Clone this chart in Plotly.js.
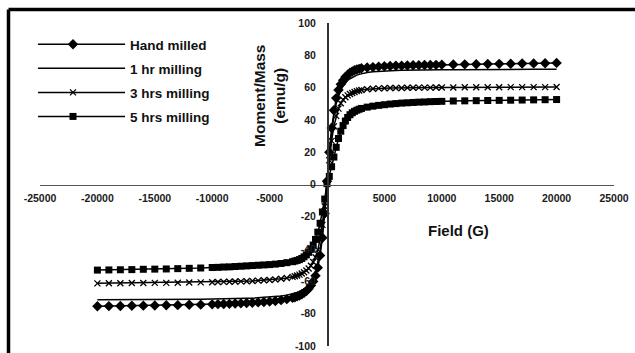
<!DOCTYPE html>
<html><head><meta charset="utf-8">
<script src="https://cdn.plot.ly/plotly-3.0.1.min.js"></script>
<style>html,body{margin:0;padding:0;background:#fff}#chart{width:635px;height:353px}</style>
</head><body><div id="chart"></div>
<script>
const field = [-20000,-19000,-18000,-17000,-16000,-15000,-14000,-13000,-12000,-11000,-10000,
-9500,-9000,-8500,-8000,-7500,-7000,-6500,-6000,-5500,-5000,-4500,-4000,-3500,-3000,
-2800,-2600,-2400,-2200,-2000,-1800,-1600,-1400,-1200,-1000,-800,-600,-400,-200,
0,
200,400,600,800,1000,1200,1400,1600,1800,2000,2200,2400,2600,2800,
3000,3500,4000,4500,5000,5500,6000,6500,7000,7500,8000,8500,9000,9500,
10000,11000,12000,13000,14000,15000,16000,17000,18000,19000,20000];

const handMilled = [-75.4,-75.3,-75.2,-75.1,-75.0,-74.9,-74.8,-74.7,-74.5,-74.4,-74.2,
-74.1,-74.0,-73.9,-73.7,-73.6,-73.4,-73.2,-73.0,-72.8,-72.5,-72.1,-71.6,-71.0,-70.2,
-69.8,-69.3,-68.7,-68.0,-67.1,-66.0,-64.5,-62.6,-60.0,-56.5,-51.5,-44.0,-33.0,-18.0,
2.0,
20.0,35.0,46.0,53.5,58.5,62.0,64.5,66.5,68.0,69.2,70.0,70.7,71.2,71.6,
72.0,72.4,72.7,73.0,73.2,73.4,73.5,73.6,73.7,73.8,73.9,74.0,74.0,74.1,
74.2,74.3,74.4,74.5,74.6,74.7,74.8,74.9,75.0,75.1,75.3];

const milling1hr = [-71.4,-71.4,-71.3,-71.3,-71.2,-71.2,-71.1,-71.1,-71.0,-71.0,-70.9,
-70.9,-70.8,-70.8,-70.7,-70.6,-70.5,-70.4,-70.2,-70.0,-69.7,-69.4,-69.0,-68.5,-67.8,
-67.4,-66.9,-66.3,-65.6,-64.7,-63.5,-62.0,-60.0,-57.3,-53.5,-48.0,-40.5,-30.0,-16.5,
1.5,
18.5,32.0,42.5,50.0,55.0,58.5,61.0,62.9,64.4,65.5,66.4,67.1,67.7,68.2,
68.6,69.3,69.8,70.1,70.3,70.5,70.6,70.7,70.8,70.8,70.9,70.9,71.0,71.0,
71.0,71.0,71.1,71.1,71.1,71.2,71.2,71.2,71.3,71.3,71.3];

const milling3hrs = [-61.2,-61.1,-61.1,-61.0,-61.0,-60.9,-60.9,-60.8,-60.7,-60.6,-60.5,
-60.4,-60.3,-60.2,-60.1,-60.0,-59.9,-59.7,-59.5,-59.3,-59.1,-58.8,-58.4,-57.9,-57.2,
-56.8,-56.3,-55.8,-55.1,-54.3,-53.3,-52.0,-50.3,-48.0,-45.0,-40.5,-34.0,-25.0,-13.5,
1.0,
15.0,27.0,36.0,42.5,47.0,50.3,52.5,54.0,55.2,56.0,56.7,57.3,57.8,58.2,
58.5,59.0,59.3,59.5,59.6,59.7,59.8,59.8,59.9,59.9,60.0,60.0,60.0,60.1,
60.1,60.1,60.2,60.2,60.2,60.2,60.3,60.3,60.3,60.3,60.4];

const milling5hrs = [-53.0,-52.9,-52.8,-52.7,-52.5,-52.4,-52.3,-52.1,-51.9,-51.7,-51.4,
-51.3,-51.1,-51.0,-50.8,-50.6,-50.4,-50.2,-50.0,-49.8,-49.6,-49.3,-48.9,-48.4,-47.8,
-47.4,-47.0,-46.5,-45.8,-44.8,-43.6,-42.0,-40.0,-37.5,-34.0,-29.5,-24.0,-17.0,-9.0,
0.5,
5.0,11.0,17.0,23.0,28.5,33.0,36.5,39.3,41.5,43.2,44.4,45.3,46.0,46.6,
47.1,47.9,48.5,49.0,49.4,49.8,50.1,50.4,50.6,50.8,51.0,51.1,51.3,51.4,
51.5,51.7,51.8,51.9,52.0,52.1,52.2,52.3,52.4,52.5,52.6];

const seriesNames = ['Hand milled', '1 hr milling', '3 hrs milling', '5 hrs milling'];
const xTickVals = [-25000,-20000,-15000,-10000,-5000,5000,10000,15000,20000,25000];
const yTickVals = [-100,-80,-60,-40,-20,0,20,40,60,80,100];
const xTitle = 'Field (G)';
const yTitle = 'Moment/Mass<br>(emu/g)';

const FONT = 'Arial, "Liberation Sans", sans-serif';
const lineStyle = {color: '#000', width: 1.5};

const traces = [
  {x: field, y: handMilled, name: seriesNames[0], mode: 'lines+markers', legendgroup: 'a',
   line: lineStyle, marker: {symbol: 'diamond', size: 8, color: '#000'}},
  {x: field, y: milling1hr, name: seriesNames[1], mode: 'lines', legendgroup: 'b',
   line: lineStyle},
  {x: field, y: milling3hrs, name: seriesNames[2], mode: 'lines+markers', legendgroup: 'c',
   line: lineStyle, marker: {symbol: 'x-thin-open', size: 6, color: '#000', line: {color: '#000', width: 1.3}}},
  {x: field, y: milling5hrs, name: seriesNames[3], mode: 'lines+markers', legendgroup: 'd',
   line: lineStyle, marker: {symbol: 'square', size: 7, color: '#000'}}
];

const tickFont = {family: FONT, size: 10.5, color: '#1a1a1a', weight: 'bold'};

const layout = {
  width: 635, height: 353,
  margin: {l: 40, r: 21, t: 23, b: 7},
  paper_bgcolor: '#fff', plot_bgcolor: 'rgba(0,0,0,0)',
  showlegend: true,
  legend: {x: (33 - 40) / 574, y: 1 - (29 - 23) / 323, xanchor: 'left', yanchor: 'top',
           bgcolor: 'rgba(0,0,0,0)', borderwidth: 0, itemwidth: 87, tracegroupgap: 3.5,
           font: {family: FONT, size: 13.5, color: '#111', weight: 'bold'}},
  xaxis: {range: [-25000, 25000], tickvals: xTickVals, ticktext: xTickVals.map(String),
          showgrid: false, zeroline: false, showline: true, linecolor: '#555', linewidth: 1.5,
          anchor: 'free', position: 0.5, ticks: '', tickfont: tickFont, ticklabelstandoff: 3,
          ticklabeloverflow: 'allow'},
  yaxis: {range: [-100, 100], tickvals: yTickVals, ticktext: yTickVals.map(String),
          showgrid: false, zeroline: false, showline: true, linecolor: '#333', linewidth: 1.5,
          anchor: 'free', position: 0.5, ticks: '', tickfont: tickFont, ticklabelstandoff: 9,
          ticklabeloverflow: 'allow'},
  annotations: [
    {text: xTitle, xref: 'paper', yref: 'paper', x: (458 - 40) / 574, y: 1 - (230 - 23) / 323,
     xanchor: 'center', yanchor: 'middle',
     showarrow: false, font: {family: FONT, size: 15, color: '#111', weight: 'bold'}},
    {text: yTitle, xref: 'paper', yref: 'paper', x: (270 - 40) / 574, y: 1 - (96 - 23) / 323,
     xanchor: 'center', yanchor: 'middle',
     showarrow: false, textangle: -90, font: {family: FONT, size: 15.5, color: '#111', weight: 'bold'}}
  ],
  shapes: [
    {type: 'line', xref: 'paper', yref: 'paper', x0: (8.5 - 40) / 574, x1: 1.1,
     y0: 1 + (23 - 9.5) / 323, y1: 1 + (23 - 9.5) / 323, line: {color: '#000', width: 3.5}, layer: 'above'},
    {type: 'line', xref: 'paper', yref: 'paper', x0: (8.5 - 40) / 574, x1: (8.5 - 40) / 574,
     y0: -0.1, y1: 1 + (23 - 9.5) / 323, line: {color: '#000', width: 3.5}, layer: 'above'}
  ]
};

Plotly.newPlot('chart', traces, layout, {displayModeBar: false, staticPlot: true}).then(gd => {
  gd.querySelectorAll('.legend .legendlines').forEach(p => p.setAttribute('d', 'M5,0h70'));
  gd.querySelectorAll('.legend .legendpoints path.scatterpts').forEach(p => p.setAttribute('transform', 'translate(40,0)'));
});
</script>
</body></html>
